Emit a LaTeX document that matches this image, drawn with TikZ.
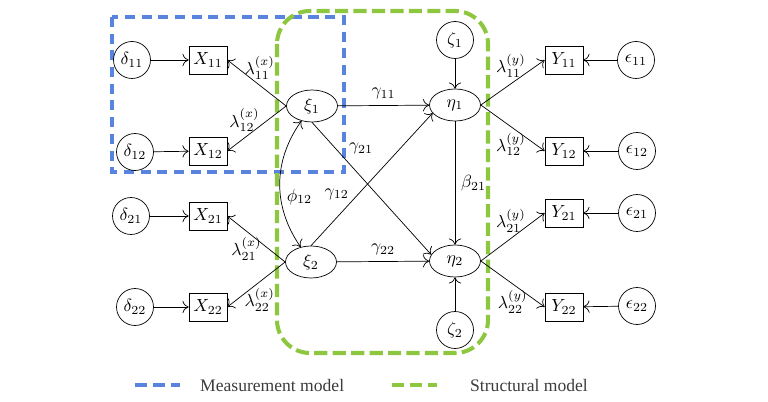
\documentclass[tikz,border=0pt]{standalone}
\usepackage{fontspec}
\usepackage{tikz}
\usetikzlibrary{shapes.geometric, arrows.meta}
\newfontfamily\legendfont{Liberation Serif}
\definecolor{measblue}{RGB}{88,132,222}
\definecolor{structgreen}{RGB}{141,198,63}
\definecolor{legendgray}{RGB}{60,60,60}

\begin{document}
\begin{tikzpicture}[x=0.02cm, y=-0.02cm, >={To[length=3.5pt, width=7pt]},
	errvar/.style={draw, circle, minimum size=0.74cm, inner sep=1pt},
	obsvar/.style={draw, rectangle, minimum width=0.76cm, minimum height=0.56cm, inner sep=1pt},
	latvar/.style={draw, ellipse, minimum width=1.02cm, minimum height=0.64cm, inner sep=1pt},
	measline/.style={draw=measblue, line width=2.3pt, dash pattern=on 5.7pt off 3.8pt},
	structline/.style={draw=structgreen, line width=2.3pt, dash pattern=on 7.5pt off 3pt},
	legline/.style={line width=2.3pt, dash pattern=on 6.8pt off 3.4pt}]
	\useasboundingbox (0,0) rectangle (768,402);
	%model boxes
	\draw[measline] (112,17) rectangle (344,172);
	\draw[structline, rounded corners=0.66cm] (277,11) rectangle (488,353);
	%error terms
	\foreach \nm/\x/\y/\lab in {d11/132/60/\delta_{11}, d12/135/152/\delta_{12}, d21/131/216/\delta_{21}, d22/135/307/\delta_{22},
			e11/636/60/\epsilon_{11}, e12/637/151/\epsilon_{12}, e21/637/213/\epsilon_{21}, e22/637/306/\epsilon_{22},
			z1/455/40/\zeta_1, z2/455/330/\zeta_2}
		\node[errvar] (\nm) at (\x, \y) {$\lab$};
	%observed
	\foreach \nm/\x/\y/\lab in {X11/208/60/X_{11}, X12/208/151/X_{12}, X21/208/216/X_{21}, X22/208/307/X_{22},
			Y11/564/60/Y_{11}, Y12/564/151/Y_{12}, Y21/564/213/Y_{21}, Y22/564/307/Y_{22}}
		\node[obsvar] (\nm) at (\x, \y) {$\lab$};
	%latent
	\foreach \nm/\x/\y/\lab in {xi1/312/106/\xi_1, xi2/311/262/\xi_2, eta1/455/105/\eta_1, eta2/455/261/\eta_2}
		\node[latvar] (\nm) at (\x, \y) {$\lab$};
	%errors into indicators
	\foreach \i in {11, 12, 21, 22} {
		\draw[->] (d\i) -- (X\i);
		\draw[->] (e\i) -- (Y\i);
	}
	\draw[->] (z1) -- (eta1);
	\draw[->] (z2) -- (eta2);
	%loadings
	\draw[->] (xi1.west) -- (X11.east) node[pos=0.45, above] {$\lambda^{(x)}_{11}$};
	\draw[->] (xi1.west) -- (X12.east) node[pos=0.71, above] {$\lambda^{(x)}_{12}$};
	\draw[->] (xi2.west) -- (X21.east) node[pos=0.67, below] {$\lambda^{(x)}_{21}$};
	\draw[->] (xi2.west) -- (X22.east) node[pos=0.44, below] {$\lambda^{(x)}_{22}$};
	\draw[->] (eta1.east) -- (Y11.west) node[pos=0.47, above] {$\lambda^{(y)}_{11}$};
	\draw[->] (eta1.east) -- (Y12.west) node[pos=0.47, below] {$\lambda^{(y)}_{12}$};
	\draw[->] (eta2.east) -- (Y21.west) node[pos=0.47, above] {$\lambda^{(y)}_{21}$};
	\draw[->] (eta2.east) -- (Y22.west) node[pos=0.5, below] {$\lambda^{(y)}_{22}$};
	%structural paths
	\draw[<->] (xi1) to[bend right=35] node[pos=0.6, right] {$\phi_{12}$} (xi2);
	\draw[->] (xi1) -- (eta1) node[midway, above] {$\gamma_{11}$};
	\draw[->] (xi1.south) -- (eta2.165) node[pos=0.2, right=4pt] {$\gamma_{21}$};
	\draw[->] (xi2.north) -- (eta1.200) node[pos=0.39, left=2pt] {$\gamma_{12}$};
	\draw[->] (xi2) -- (eta2) node[midway, above] {$\gamma_{22}$};
	\draw[->] (eta1) -- (eta2) node[midway, right] {$\beta_{21}$};
	%legend
	\draw[legline, measblue] (135,385) -- (180,385);
	\node[anchor=west, text=legendgray] (measlab) at (194,385) {\legendfont Measurement model};
	\draw[legline, structgreen] (392,385) -- (437,385);
	\node[anchor=west, text=legendgray] (structlab) at (464,385) {\legendfont Structural model};
\end{tikzpicture}
\end{document}
